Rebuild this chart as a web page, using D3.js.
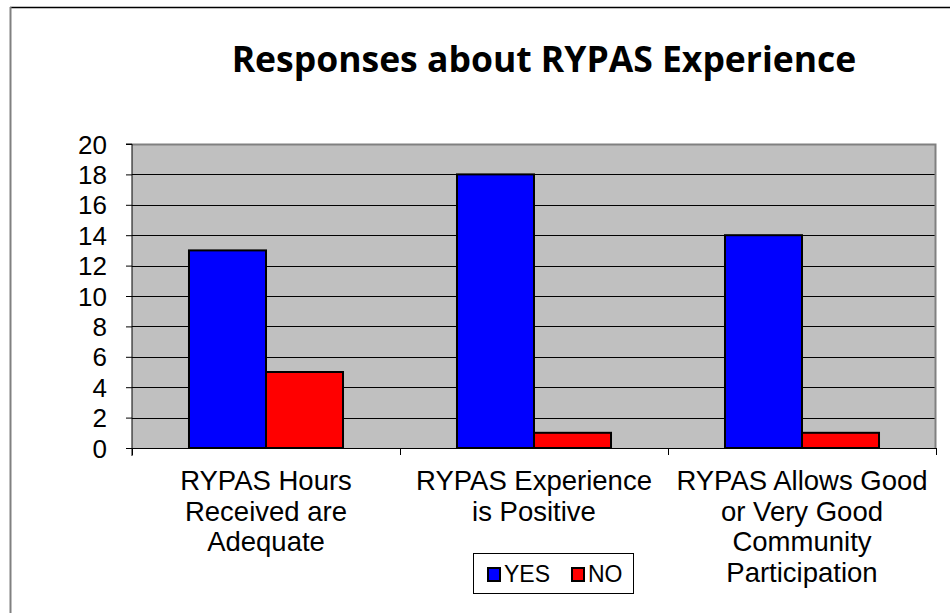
<!DOCTYPE html>
<html><head><meta charset="utf-8">
<script src="https://cdn.jsdelivr.net/npm/d3@7"></script>
<style>body{margin:0;background:#fff}svg{display:block}</style>
</head><body>
<svg id="c" width="950" height="613"></svg>
<script>
const categories = [
  ["RYPAS Hours", "Received are", "Adequate"],
  ["RYPAS Experience", "is Positive"],
  ["RYPAS Allows Good", "or Very Good", "Community", "Participation"]
];
const seriesNames = ["YES", "NO"];
const seriesColors = ["#0000FF", "#FF0000"];
const yesValues = [13, 18, 14];
const noValues = [5, 1, 1];
const yTicks = [0, 2, 4, 6, 8, 10, 12, 14, 16, 18, 20];
const title = "Responses about RYPAS Experience";

const svg = d3.select("#c");
const plot = {left: 132, right: 936, top: 144, bottom: 448};
const FONT = "'Liberation Sans', Arial, sans-serif";

// outer border
svg.append("line").attr("x1", 10).attr("x2", 950).attr("y1", 7.5).attr("y2", 7.5).attr("stroke", "#000").attr("stroke-width", 1.5);
svg.append("line").attr("x1", 10.5).attr("x2", 10.5).attr("y1", 7).attr("y2", 613).attr("stroke", "#808080").attr("stroke-width", 2);

svg.append("text").attr("x", 544).attr("y", 72).attr("text-anchor", "middle")
  .attr("font-family", "'Open Sans', sans-serif").attr("font-weight", "bold").attr("font-size", 35.5)
  .text(title);

const x0 = d3.scaleBand().domain(d3.range(categories.length)).range([plot.left, plot.right]).paddingInner(0).paddingOuter(0);
const x1 = d3.scaleBand().domain(seriesNames).range([0, x0.bandwidth()]).paddingOuter(0.74).paddingInner(0);
const y = d3.scaleLinear().domain([0, 20]).range([plot.bottom, plot.top]);

svg.append("rect").attr("x", plot.left).attr("y", plot.top).attr("width", plot.right - plot.left).attr("height", plot.bottom - plot.top)
  .attr("fill", "#C0C0C0");

// gridlines
svg.append("g").selectAll("line").data(yTicks.filter(d => d > 0 && d < 20)).join("line")
  .attr("x1", plot.left).attr("x2", plot.right)
  .attr("y1", d => Math.round(y(d)) + 0.5).attr("y2", d => Math.round(y(d)) + 0.5)
  .attr("stroke", "#000").attr("stroke-width", 1);
// plot border top/right
svg.append("path").attr("d", `M${plot.left},${plot.top + 0.5}H${plot.right - 0.5}V${plot.bottom}`)
  .attr("fill", "none").attr("stroke", "#808080").attr("stroke-width", 2);

const data = categories.map((c, i) => ({i, vals: [yesValues[i], noValues[i]]}));
const groups = svg.append("g").selectAll("g").data(data).join("g")
  .attr("transform", d => `translate(${x0(d.i)},0)`);
groups.selectAll("rect").data(d => d.vals.map((v, k) => ({v, k}))).join("rect")
  .attr("x", d => x1(seriesNames[d.k]))
  .attr("y", d => y(d.v))
  .attr("width", x1.bandwidth())
  .attr("height", d => y(0) - y(d.v))
  .attr("fill", d => seriesColors[d.k])
  .attr("stroke", "#000").attr("stroke-width", 2);

// y axis
const yAxis = d3.axisLeft(y).tickValues(yTicks).tickSize(6).tickPadding(19);
const gy = svg.append("g").attr("transform", `translate(${plot.left},0)`).call(yAxis);
gy.select(".domain").attr("stroke", "#000").attr("d", `M-6,${plot.top}H0V${plot.bottom + 8}`);
gy.selectAll(".tick line").attr("stroke", "#000");
gy.selectAll(".tick text").attr("font-family", FONT).attr("font-size", 26).attr("fill", "#000").attr("dy", "0.35em");

// x axis
const gx = svg.append("g");
gx.append("line").attr("x1", plot.left - 6).attr("x2", plot.right).attr("y1", plot.bottom + 0.5).attr("y2", plot.bottom + 0.5).attr("stroke", "#000");
const bounds = d3.range(categories.length + 1).map(i => i < categories.length ? x0(i) : plot.right);
gx.selectAll(".tk").data(bounds).join("line").attr("class", "tk")
  .attr("x1", d => Math.round(d) + 0.5).attr("x2", d => Math.round(d) + 0.5)
  .attr("y1", plot.bottom).attr("y2", plot.bottom + 7).attr("stroke", "#000");
gx.selectAll("text").data(categories).join("text")
  .attr("text-anchor", "middle")
  .attr("font-family", FONT).attr("font-size", 27.5).attr("fill", "#000")
  .each(function(lines, i) {
    const t = d3.select(this);
    lines.forEach((ln, j) => {
      t.append("tspan").attr("x", x0(i) + x0.bandwidth() / 2).attr("y", 490 + j * 30.7).text(ln);
    });
  });

// legend
const lg = svg.append("g");
lg.append("rect").attr("x", 473.5).attr("y", 553.5).attr("width", 160).attr("height", 40)
  .attr("fill", "#fff").attr("stroke", "#000").attr("stroke-width", 1);
const lx = [488, 572];
seriesNames.forEach((s, k) => {
  lg.append("rect").attr("x", lx[k]).attr("y", 568).attr("width", 12).attr("height", 13)
    .attr("fill", seriesColors[k]).attr("stroke", "#000").attr("stroke-width", 2);
  lg.append("text").attr("x", lx[k] + 16).attr("y", 582).attr("font-family", FONT)
    .attr("font-size", 23).text(s);
});
</script>
</body></html>
